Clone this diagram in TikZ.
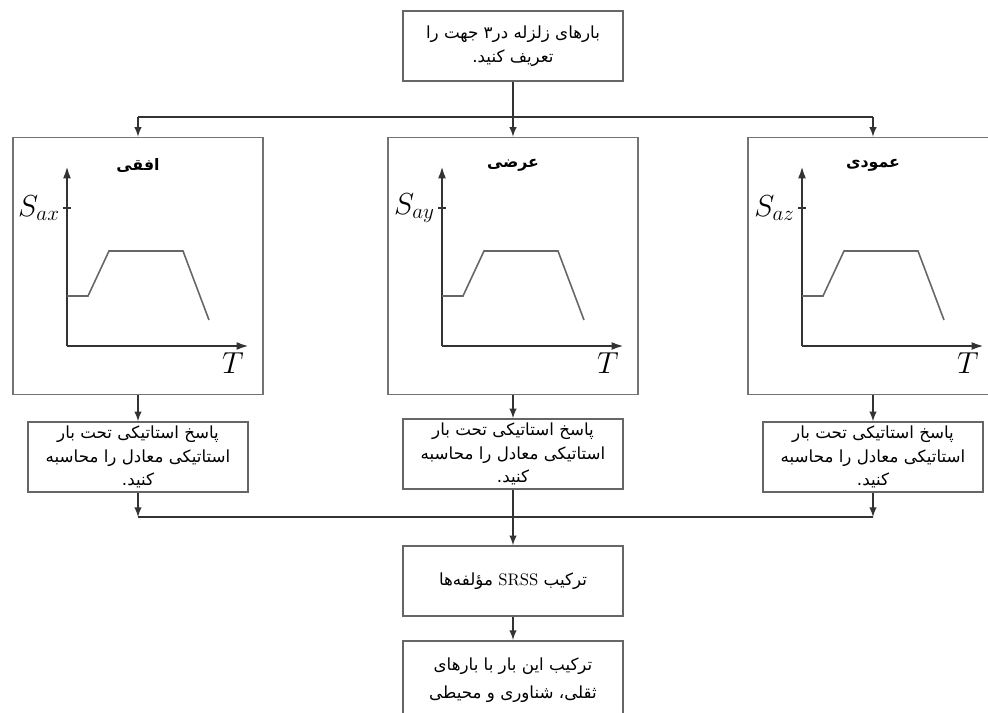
\documentclass[tikz,border=0pt]{standalone}
\usepackage{fontspec}
\newfontfamily\arabicfont[Script=Arabic]{DejaVu Sans}
\TeXXeTstate=1
\usetikzlibrary{arrows.meta}
\tikzset{
  box/.style={draw=black!60, line width=0.9pt, minimum width=4.4cm, minimum height=1.4cm,
    inner sep=1pt, align=center, font=\arabicfont\fontsize{9.5}{13.5}\selectfont},
  panel/.style={draw=black!55, line width=0.9pt, minimum width=5cm, minimum height=5.14cm},
  conn/.style={black!80, line width=0.9pt},
  axis/.style={-{Latex[length=7pt,width=4.5pt]}, black!80, line width=1.3pt},
  spec/.style={black!60, line width=0.9pt},
}
\begin{document}
\begin{tikzpicture}[>=latex, x=0.02cm, y=-0.02cm]
  \useasboundingbox (0,0) rectangle (988,713);
  \clip (0,0) rectangle (988,713);
  % Bokser
  \node[box] (def) at (513,46) {\beginR بارهای زلزله در۳ جهت را\endR\\\beginR تعریف کنید.\endR};
  \node[panel] (px) at (138,266) {};
  \node[panel] (py) at (513,266) {};
  \node[panel] (pz) at (873,266) {};
  \node[box] (rx) at (138,457) {\beginR پاسخ استاتیکی تحت بار\endR\\\beginR استاتیکی معادل را محاسبه\endR\\\beginR کنید.\endR};
  \node[box] (ry) at (513,454) {\beginR پاسخ استاتیکی تحت بار\endR\\\beginR استاتیکی معادل را محاسبه\endR\\\beginR کنید.\endR};
  \node[box] (rz) at (873,457) {\beginR پاسخ استاتیکی تحت بار\endR\\\beginR استاتیکی معادل را محاسبه\endR\\\beginR کنید.\endR};
  \node[box] (srss) at (513,581) {\beginR ترکیب {\rmfamily\beginL SRSS\endL} مؤلفه‌ها\endR};
  \node[box, minimum height=1.56cm, anchor=north, font=\arabicfont\fontsize{9.5}{16}\selectfont] (fin) at (513,640)
    {\beginR ترکیب این بار با بارهای\endR\\\beginR ثقلی، شناوری و محیطی\endR};
  % Spektre
  \foreach \p/\s/\t in {px/x/افقی, py/y/عرضی, pz/z/عمودی}{
    \begin{scope}[shift={(\p.center)}]
      \node[font=\arabicfont\bfseries\fontsize{9}{11}\selectfont] (h\s) at (0,-101) {\beginR\t\endR};
      \draw[axis] (-71,80) -- (-71,-100);
      \draw[axis] (-71,80) -- (111,80);
      \draw[black!80, line width=0.8pt] (-75,-58) -- (-67,-58);
      \node[anchor=east, inner sep=1pt, font=\LARGE] (s\s) at (-76,-58) {$S_{a\s}$};
      \node[font=\LARGE] (t\s) at (95,97) {$T$};
      \draw[spec] (-71,30) -- (-50,30) -- (-29,-15) -- (45,-15) -- (71,54);
    \end{scope}
  }
  % Piler
  \coordinate (jt) at (513,117);
  \coordinate (jb) at (513,517);
  \draw[conn] (def) -- (jt);
  \draw[conn] (jt -| px) -- (jt -| pz);
  \draw[conn,->] (jt -| px) -- (px);
  \draw[conn,->] (jt) -- (py);
  \draw[conn,->] (jt -| pz) -- (pz);
  \draw[conn,->] (px) -- (rx);
  \draw[conn,->] (py) -- (ry);
  \draw[conn,->] (pz) -- (rz);
  \draw[conn,->] (rx) -- (rx |- jb);
  \draw[conn,->] (rz) -- (rz |- jb);
  \draw[conn] (jb -| rx) -- (jb -| rz);
  \draw[conn,->] (ry) -- (srss);
  \draw[conn,->] (srss) -- (fin);
\end{tikzpicture}
\end{document}
